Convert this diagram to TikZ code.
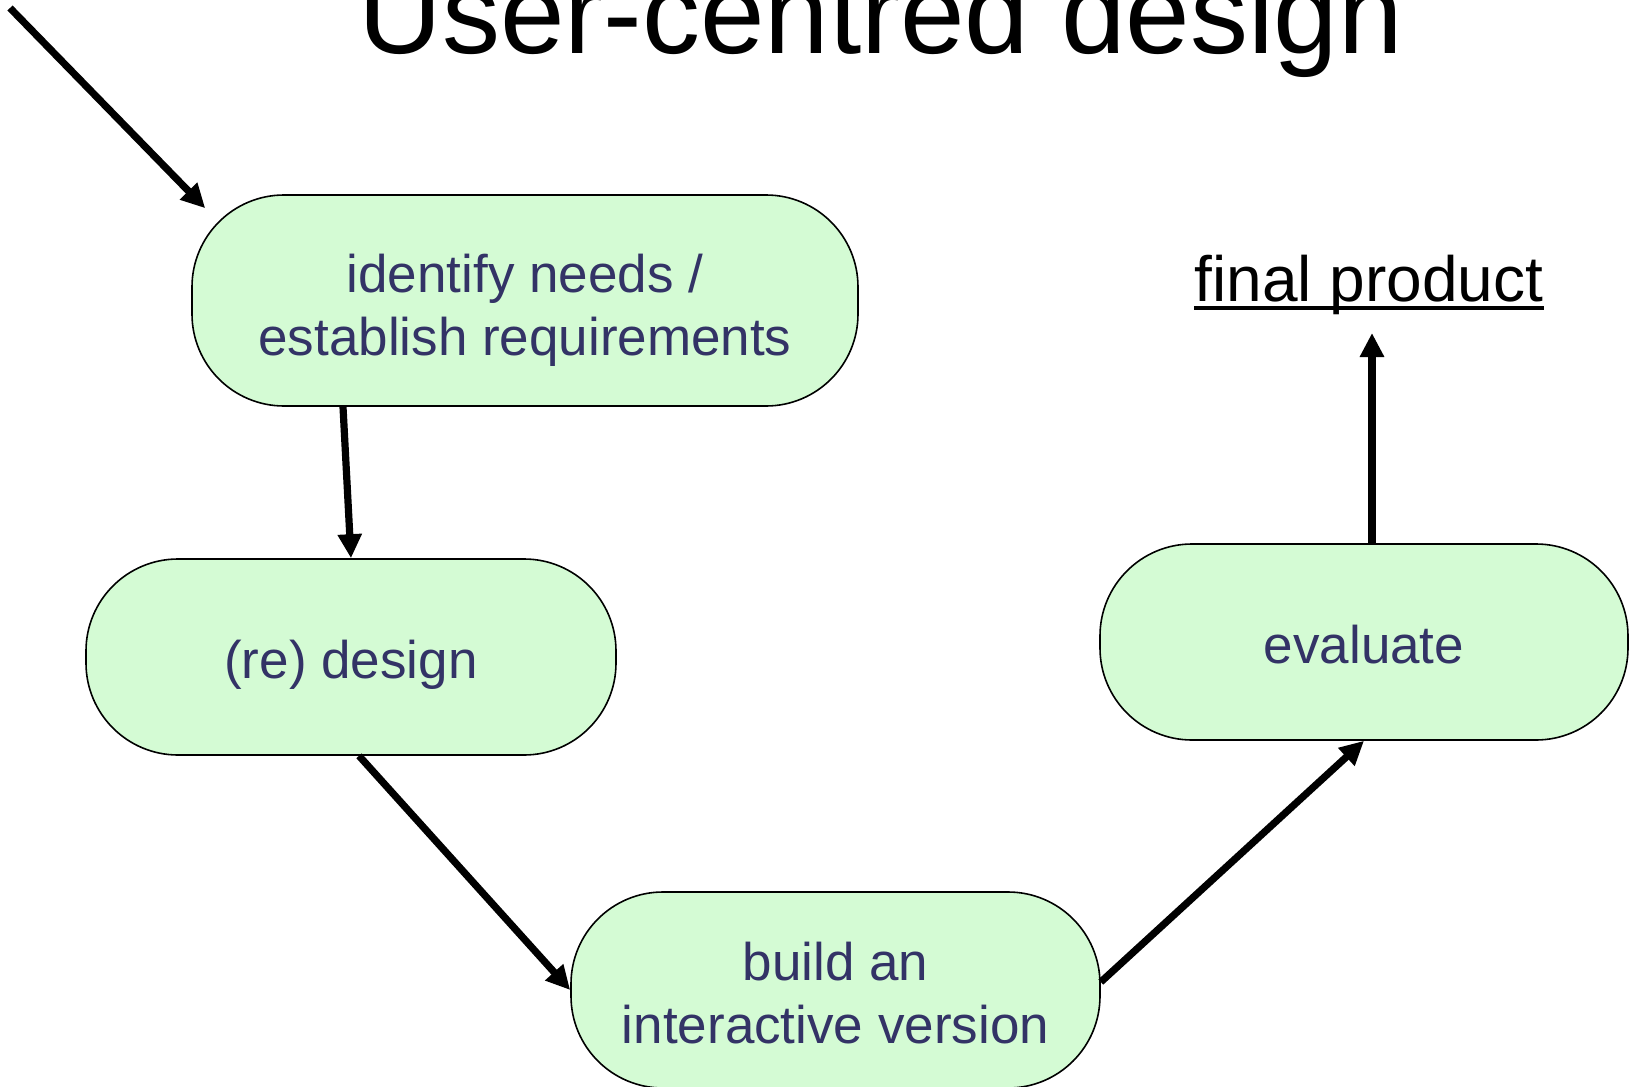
\documentclass[tikz,border=0pt]{standalone}
\usepackage{fontspec}
\setmainfont{Liberation Sans}
\usetikzlibrary{arrows.meta,calc}
\definecolor{boxfill}{RGB}{212,251,212}
\definecolor{boxtext}{RGB}{51,51,102}
\begin{document}
\begin{tikzpicture}[x=0.5pt,y=-0.5pt,
  stage/.style={draw=black, line width=0.8pt, fill=boxfill, rounded corners=46pt, inner sep=0pt},
  stagetext/.style={text=boxtext, font=\fontsize{26.5pt}{31.5pt}\selectfont, align=center, inner sep=0pt},
  flow/.style={line width=3.6pt, -{Triangle[length=12pt,width=11.5pt]}}]
\useasboundingbox (0,0) rectangle (1630,1087);
\node[font=\fontsize{58pt}{70pt}\selectfont, anchor=base, inner sep=0pt] (title) at (881,53) {User-centred design};
\node[stage, minimum width=333pt, minimum height=105.5pt] (b1) at (525,300.5) {};
\node[stagetext] (t1) at ($(b1.center)+(0,10)$) {identify needs /\\establish requirements};
\node[stage, minimum width=265pt, minimum height=98pt] (b2) at (351,657) {};
\node[stagetext] (t2) at ($(b2.center)+(0,8)$) {(re) design};
\node[stage, minimum width=264.5pt, minimum height=98pt] (b3) at (835.5,990) {};
\node[stagetext] (t3) at ($(b3.center)+(0,3)$) {build an\\interactive version};
\node[stage, minimum width=264pt, minimum height=98pt] (b4) at (1364,642) {};
\node[stagetext] (t4) at ($(b4.center)+(0,3)$) {evaluate};
\node[font=\fontsize{32pt}{38pt}\selectfont, anchor=base, inner sep=0pt] (fp) at (1369,301) {final product};
\draw[line width=2.4pt] ([yshift=-3.5pt]fp.base west) -- ([yshift=-3.5pt]fp.base east);
\coordinate (start) at (10,8);
\draw[flow] (start) -- ($(b1.north west)+(14,14)$);
\draw[flow] ($(b1.south)+(-182,0)$) -- (b2.north);
\draw[flow] ($(b2.south)+(8,0)$) -- (b3.west);
\draw[flow] ($(b3.east)+(0,-8)$) -- (b4.south);
\draw[flow] ($(b4.north)+(8,0)$) -- ($(fp.base)+(3,32)$);
\end{tikzpicture}
\end{document}
